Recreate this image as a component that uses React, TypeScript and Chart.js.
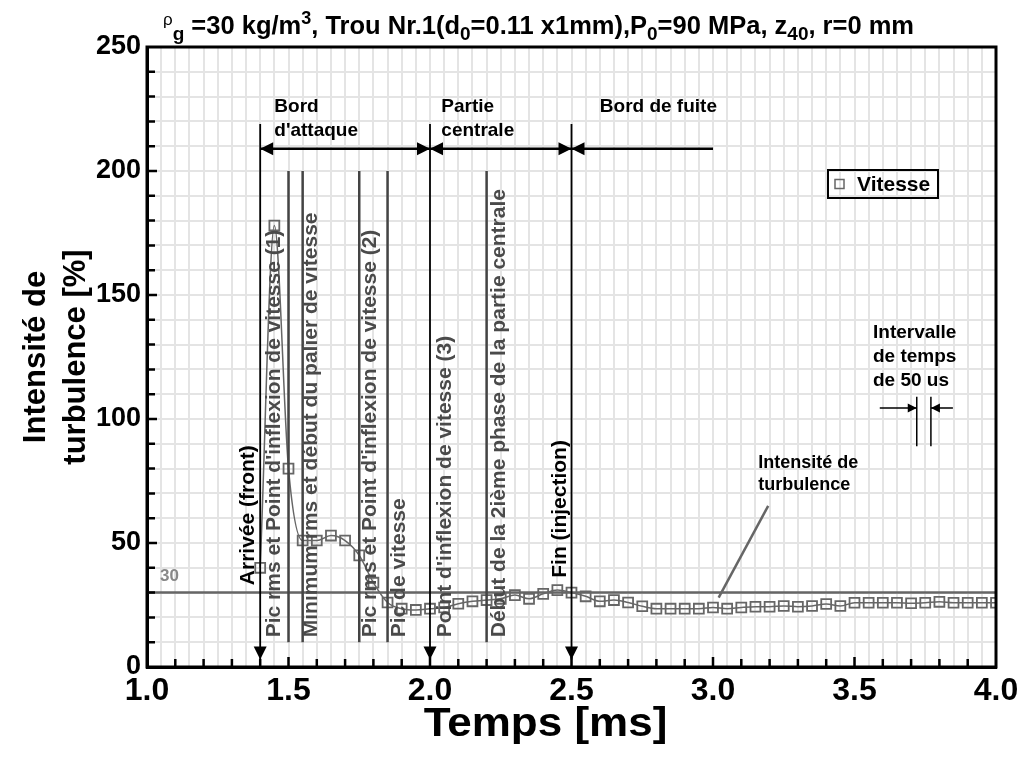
import React, { useEffect, useRef } from "react";
import { Chart, registerables } from "chart.js";

Chart.register(...registerables);

// ---------------- data ----------------
const times = [
  1.40, 1.45, 1.50, 1.55, 1.60, 1.65, 1.70, 1.75, 1.80, 1.85,
  1.90, 1.95, 2.00, 2.05, 2.10, 2.15, 2.20, 2.25, 2.30, 2.35,
  2.40, 2.45, 2.50, 2.55, 2.60, 2.65, 2.70, 2.75, 2.80, 2.85,
  2.90, 2.95, 3.00, 3.05, 3.10, 3.15, 3.20, 3.25, 3.30, 3.35,
  3.40, 3.45, 3.50, 3.55, 3.60, 3.65, 3.70, 3.75, 3.80, 3.85,
  3.90, 3.95, 4.00,
];
const vitesse = [
  40, 178, 80, 51, 51, 53, 51, 45, 34, 26,
  23.5, 23, 23.5, 24, 25.5, 26.5, 27, 27.5, 29, 27.5,
  29.5, 31, 30, 28.5, 26.5, 27, 26, 24.5, 23.5, 23.5,
  23.5, 23.5, 24, 23.5, 24, 24.3, 24.3, 24.6, 24.3, 24.6,
  25.4, 24.6, 25.9, 25.9, 25.9, 25.9, 25.7, 25.9, 26.3, 25.9,
  25.9, 25.9, 25.9,
];
const seriesLabel = "Vitesse";
const xTickValues = [1.0, 1.5, 2.0, 2.5, 3.0, 3.5, 4.0];
const xTickLabels = ["1.0", "1.5", "2.0", "2.5", "3.0", "3.5", "4.0"];
const yTickLabels = ["0", "50", "100", "150", "200", "250"];
const xAxisTitle = "Temps [ms]";
const yAxisTitle = ["Intensité de", "turbulence [%]"];
const referenceLevel = 30;

const phaseBoundaryTimes = [1.4, 2.0, 2.5];
const eventLineTimes = [1.5, 1.55, 1.75, 1.85, 2.2];
const phaseSpans = [[1.4, 2.0], [2.0, 2.5], [2.5, 3.0]];
const phaseNames = [["Bord", "d'attaque"], ["Partie", "centrale"], ["Bord de fuite"]];
const eventLabels = [
  "Arrivée (front)",
  "Pic rms et Point d'inflexion de vitesse (1)",
  "Minimum rms et début du palier de vitesse",
  "Pic rms et Point d'inflexion de vitesse (2)",
  "Pic de vitesse",
  "Point d'inflexion de vitesse (3)",
  "Début de la 2ième phase de la partie centrale",
  "Fin (injection)",
];
const eventLabelTimes = [1.4, 1.4, 1.55, 1.75, 1.85, 2.0, 2.2, 2.5];
const intervalTimes = [3.72, 3.77];

// ---------------- styles / layout ----------------
const FONT = '"Liberation Sans", Arial, sans-serif';
const eventLabelStyle = [
  { dx: -12, bottom: 33, color: "#000" },
  { dx: 14.5, bottom: 12, color: "#4a4a4a" },
  { dx: 9, bottom: 12, color: "#4a4a4a" },
  { dx: 10.5, bottom: 12, color: "#4a4a4a" },
  { dx: 12, bottom: 12, color: "#4a4a4a" },
  { dx: 15, bottom: 12, color: "#4a4a4a" },
  { dx: 13, bottom: 12, color: "#4a4a4a" },
  { dx: -11, bottom: 36, color: "#000" },
];
const phaseNameX = [1.45, 2.04, 2.6];

const titleParts = [
  { text: "ρ", mode: "symbol" },
  { text: "g", mode: "sub" },
  { text: " =30 kg/m", mode: "normal" },
  { text: "3", mode: "sup" },
  { text: ", Trou Nr.1(d", mode: "normal" },
  { text: "0", mode: "sub" },
  { text: "=0.11 x1mm),P", mode: "normal" },
  { text: "0", mode: "sub" },
  { text: "=90 MPa, z", mode: "normal" },
  { text: "40", mode: "sub" },
  { text: ", r=0 mm", mode: "normal" },
];

function arrowHead(ctx: CanvasRenderingContext2D, x: number, y: number, dir: string, len: number, half: number) {
  ctx.beginPath();
  if (dir === "down") {
    ctx.moveTo(x, y); ctx.lineTo(x - half, y - len); ctx.lineTo(x + half, y - len);
  } else if (dir === "left") {
    ctx.moveTo(x, y); ctx.lineTo(x + len, y - half); ctx.lineTo(x + len, y + half);
  } else {
    ctx.moveTo(x, y); ctx.lineTo(x - len, y - half); ctx.lineTo(x - len, y + half);
  }
  ctx.closePath();
  ctx.fill();
}

const decorPlugin = {
  id: "decor",
  beforeDatasetsDraw(chart: any) {
    const { ctx, chartArea, scales } = chart;
    const y30 = scales.y.getPixelForValue(referenceLevel);
    ctx.save();
    ctx.strokeStyle = "#666";
    ctx.lineWidth = 2.5;
    ctx.beginPath();
    ctx.moveTo(chartArea.left, y30);
    ctx.lineTo(chartArea.right, y30);
    ctx.stroke();
    ctx.fillStyle = "#888";
    ctx.font = `bold 17px ${FONT}`;
    ctx.textAlign = "left";
    ctx.textBaseline = "alphabetic";
    ctx.fillText(String(referenceLevel), chartArea.left + 13, y30 - 12);
    ctx.restore();
  },
  afterDatasetsDraw(chart: any) {
    const { ctx, scales } = chart;
    const X = (t: number) => scales.x.getPixelForValue(t);
    const Y = (v: number) => scales.y.getPixelForValue(v);
    ctx.save();

    // gray event lines
    ctx.strokeStyle = "#444";
    ctx.lineWidth = 2.5;
    eventLineTimes.forEach((t) => {
      ctx.beginPath();
      ctx.moveTo(X(t), Y(200));
      ctx.lineTo(X(t), Y(10));
      ctx.stroke();
    });

    // black phase boundaries with arrow heads
    ctx.strokeStyle = "#000";
    ctx.fillStyle = "#000";
    ctx.lineWidth = 1.8;
    phaseBoundaryTimes.forEach((t) => {
      ctx.beginPath();
      ctx.moveTo(X(t), Y(219));
      ctx.lineTo(X(t), Y(3));
      ctx.stroke();
      arrowHead(ctx, X(t), Y(3), "down", 13, 6.5);
    });

    // phase spans
    ctx.lineWidth = 2.5;
    const ySpan = Y(209);
    phaseSpans.forEach(([a, b], i) => {
      ctx.beginPath();
      ctx.moveTo(X(a), ySpan);
      ctx.lineTo(X(b), ySpan);
      ctx.stroke();
      arrowHead(ctx, X(a), ySpan, "left", 13, 6.5);
      if (i < phaseSpans.length - 1) arrowHead(ctx, X(b), ySpan, "right", 13, 6.5);
    });

    // phase names
    ctx.font = `bold 19px ${FONT}`;
    ctx.textAlign = "left";
    ctx.textBaseline = "middle";
    phaseNames.forEach((lines, i) => {
      lines.forEach((ln, j) => ctx.fillText(ln, X(phaseNameX[i]), 107 + j * 24));
    });

    // vertical event labels
    ctx.font = `bold 21px ${FONT}`;
    eventLabels.forEach((txt, i) => {
      const st = eventLabelStyle[i];
      ctx.save();
      ctx.translate(X(eventLabelTimes[i]) + st.dx, Y(st.bottom));
      ctx.rotate(-Math.PI / 2);
      ctx.fillStyle = st.color;
      ctx.textAlign = "left";
      ctx.textBaseline = "middle";
      ctx.fillText(txt, 0, 0);
      ctx.restore();
    });

    // turbulence pointer
    ctx.fillStyle = "#000";
    ctx.font = `bold 18px ${FONT}`;
    ctx.textAlign = "left";
    ctx.fillText("Intensité de", X(3.16), 463);
    ctx.fillText("turbulence", X(3.16), 485);
    ctx.strokeStyle = "#666";
    ctx.lineWidth = 2.5;
    ctx.beginPath();
    ctx.moveTo(X(3.195), Y(65));
    ctx.lineTo(X(3.02), Y(28));
    ctx.stroke();

    // interval annotation
    ctx.fillStyle = "#000";
    ctx.font = `bold 19px ${FONT}`;
    ["Intervalle", "de temps", "de 50 us"].forEach((ln, j) => ctx.fillText(ln, 873, 333 + j * 24));
    ctx.strokeStyle = "#000";
    ctx.lineWidth = 1.5;
    const [t1, t2] = intervalTimes;
    [t1, t2].forEach((t) => {
      ctx.beginPath();
      ctx.moveTo(X(t), Y(109));
      ctx.lineTo(X(t), Y(89));
      ctx.stroke();
    });
    const yA = Y(104.4);
    ctx.beginPath();
    ctx.moveTo(X(t1) - 37, yA); ctx.lineTo(X(t1), yA);
    ctx.moveTo(X(t2) + 22, yA); ctx.lineTo(X(t2), yA);
    ctx.stroke();
    arrowHead(ctx, X(t1), yA, "right", 9, 4.5);
    arrowHead(ctx, X(t2), yA, "left", 9, 4.5);

    ctx.restore();
  },
  afterDraw(chart: any) {
    const { ctx, chartArea, scales } = chart;
    const { left, right, top, bottom } = chartArea;
    ctx.save();
    // inward ticks
    ctx.strokeStyle = "#000";
    ctx.lineWidth = 2.5;
    ctx.beginPath();
    for (let v = 10; v < 250; v += 10) {
      const y = scales.y.getPixelForValue(v);
      ctx.moveTo(left, y);
      ctx.lineTo(left + (v % 50 === 0 ? 10 : 8), y);
    }
    for (let k = 1; k < 30; k++) {
      const x = scales.x.getPixelForValue(1 + k / 10);
      ctx.moveTo(x, bottom);
      ctx.lineTo(x, bottom - (k % 5 === 0 ? 10 : 8));
    }
    ctx.stroke();
    // frame
    ctx.lineWidth = 3;
    ctx.strokeRect(left, top, right - left, bottom - top);

    // x tick labels + axis title
    ctx.fillStyle = "#000";
    ctx.textAlign = "center";
    ctx.textBaseline = "alphabetic";
    ctx.font = `bold 32px ${FONT}`;
    xTickValues.forEach((v, i) => ctx.fillText(xTickLabels[i], scales.x.getPixelForValue(v), bottom + 33));
    ctx.save();
    ctx.translate((left + right) / 2 - 26, 736);
    ctx.scale(1.1, 1);
    ctx.font = `bold 40px ${FONT}`;
    ctx.fillText(xAxisTitle, 0, 0);
    ctx.restore();

    // legend
    ctx.lineWidth = 2;
    ctx.strokeRect(828, 170, 110, 28);
    ctx.strokeStyle = "#666";
    ctx.lineWidth = 1.5;
    ctx.strokeRect(835, 179.5, 9, 9);
    ctx.fillStyle = "#000";
    ctx.font = `bold 21px ${FONT}`;
    ctx.textAlign = "left";
    ctx.textBaseline = "middle";
    ctx.fillText(seriesLabel, 857, 185);

    // title
    let x = 163;
    const base = 34;
    ctx.textBaseline = "alphabetic";
    titleParts.forEach((p) => {
      let font = `bold 25.5px ${FONT}`;
      let dy = 0;
      if (p.mode === "symbol") { font = `17px ${FONT}`; dy = -9; }
      if (p.mode === "sub") { font = `bold 19px ${FONT}`; dy = 6; }
      if (p.mode === "sup") { font = `bold 18px ${FONT}`; dy = -10; }
      ctx.font = font;
      ctx.fillText(p.text, x, base + dy);
      x += ctx.measureText(p.text).width;
    });
    ctx.restore();
  },
};

export default function App() {
  const ref = useRef<HTMLCanvasElement | null>(null);
  useEffect(() => {
    if (!ref.current) return;
    const data = times.map((t, i) => ({ x: t, y: vitesse[i] }));
    const chart = new Chart(ref.current, {
      type: "line",
      data: {
        datasets: [
          {
            label: seriesLabel,
            data,
            borderColor: "#666",
            borderWidth: 1.5,
            pointStyle: "rect",
            pointRadius: 7,
            pointBorderColor: "#666",
            pointBackgroundColor: "rgba(0,0,0,0)",
            pointBorderWidth: 1.8,
            cubicInterpolationMode: "monotone",
          },
        ],
      },
      options: {
        responsive: false,
        animation: false,
        layout: { padding: { left: 0, top: 47, right: 26, bottom: 0 } },
        plugins: { legend: { display: false }, tooltip: { enabled: false }, title: { display: false } },
        scales: {
          x: {
            type: "linear",
            min: 1,
            max: 4,
            afterFit: (s: any) => { s.height = 94; },
            ticks: { display: false, stepSize: 0.05, autoSkip: false },
            grid: { color: "#e4e4e4", lineWidth: 2, drawTicks: false },
            border: { display: true, color: "#000", width: 3 },
            title: { display: false },
          },
          y: {
            min: 0,
            max: 250,
            afterFit: (s: any) => { s.width = 147; },
            ticks: {
              stepSize: 10,
              autoSkip: false,
              padding: 6,
              color: "#000",
              font: { family: FONT, size: 27, weight: "bold" },
              callback: (v: any) => (yTickLabels.includes(String(v)) ? String(v) : ""),
            },
            grid: { color: "#e4e4e4", lineWidth: 2, drawTicks: false },
            border: { display: true, color: "#000", width: 3 },
            title: {
              display: true,
              text: yAxisTitle,
              color: "#000",
              font: { family: FONT, size: 31, weight: "bold", lineHeight: 1.27 },
              padding: { top: 17, bottom: 0 },
            },
          },
        },
      },
      plugins: [decorPlugin],
    });
    return () => chart.destroy();
  }, []);
  return (
    <div style={{ position: "fixed", left: 0, top: 0, width: 1022, height: 761, background: "#fff" }}>
      <canvas ref={ref} width={1022} height={761} />
    </div>
  );
}
